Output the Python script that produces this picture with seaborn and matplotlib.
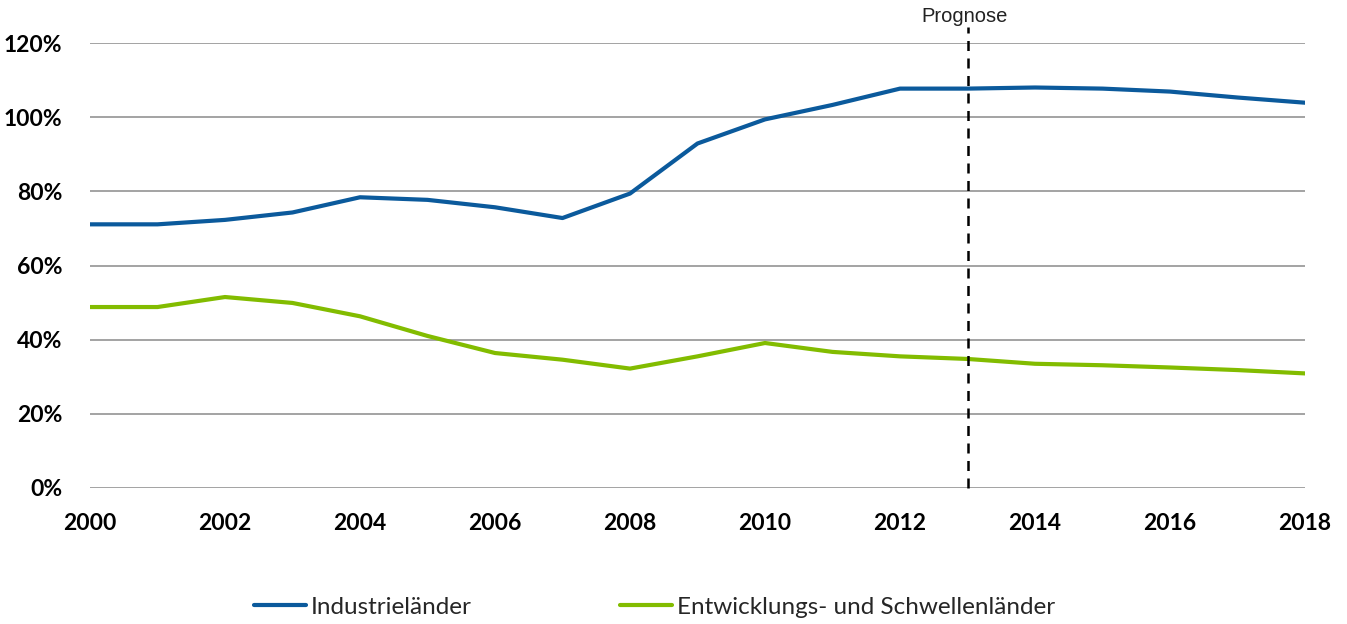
import matplotlib
matplotlib.use("Agg")
import matplotlib.pyplot as plt
import seaborn as sns
import pandas as pd
from matplotlib.ticker import FuncFormatter

years = list(range(2000, 2019))
industrie = [71.1, 71.1, 72.3, 74.3, 78.4, 77.7, 75.7, 72.8, 79.4, 92.9,
             99.4, 103.3, 107.7, 107.7, 108.0, 107.7, 106.9, 105.3, 103.9]
entwicklung = [48.8, 48.8, 51.5, 49.9, 46.3, 41.0, 36.4, 34.6, 32.2, 35.5,
               39.1, 36.7, 35.5, 34.8, 33.5, 33.1, 32.5, 31.8, 30.9]
series_names = ["Industrieländer", "Entwicklungs- und Schwellenländer"]
colors = ["#0B5A9C", "#82BC00"]
prognose_year = 2013
y_ticks = [0, 20, 40, 60, 80, 100, 120]
x_ticks = list(range(2000, 2019, 2))

df = pd.DataFrame({
    "Jahr": years * 2,
    "Wert": industrie + entwicklung,
    "Gruppe": [series_names[0]] * len(years) + [series_names[1]] * len(years),
})

sns.set_theme(style="white")
plt.rcParams["font.family"] = ["Lato", "DejaVu Sans"]

fig = plt.figure(figsize=(13.47, 6.24), dpi=100)
ax = fig.add_axes([90 / 1347, 1 - 488 / 624, (1305 - 90) / 1347, (488 - 43) / 624])

sns.lineplot(data=df, x="Jahr", y="Wert", hue="Gruppe", palette=colors,
             linewidth=3, ax=ax, zorder=3)

ax.set_xlim(2000, 2018)
ax.set_ylim(0, 120)
ax.set_yticks(y_ticks)
ax.set_xticks(x_ticks)
ax.yaxis.set_major_formatter(FuncFormatter(lambda v, p: f"{int(v)}%"))
ax.grid(axis="y", color="#8a8a8a", linewidth=1.1)
ax.grid(axis="x", visible=False)
for s in ax.spines.values():
    s.set_visible(False)
ax.tick_params(axis="both", length=0, labelsize=16.5, colors="black")
ax.tick_params(axis="x", pad=18)
ax.tick_params(axis="y", pad=20)
for lab in ax.get_xticklabels() + ax.get_yticklabels():
    lab.set_fontweight("bold")
ax.set_xlabel("")
ax.set_ylabel("")

ax.axvline(prognose_year, ymin=0, ymax=1.036, color="black", linewidth=1.8,
           linestyle=(0, (4, 3)), clip_on=False, zorder=4)
ax.text(prognose_year - 0.05, 125.75, "Prognose", ha="center", va="baseline",
        fontsize=14.5, family=["Liberation Sans", "DejaVu Sans"], color="#222222")

handles, labels = ax.get_legend_handles_labels()
ax.get_legend().remove()
fig.legend(handles, labels, loc="center", bbox_to_anchor=(0.486, 0.027), ncol=2,
           frameon=False, fontsize=17.5, handlelength=2.14, handletextpad=0.2,
           columnspacing=6.1)

fig.savefig("out.png", dpi=100)
